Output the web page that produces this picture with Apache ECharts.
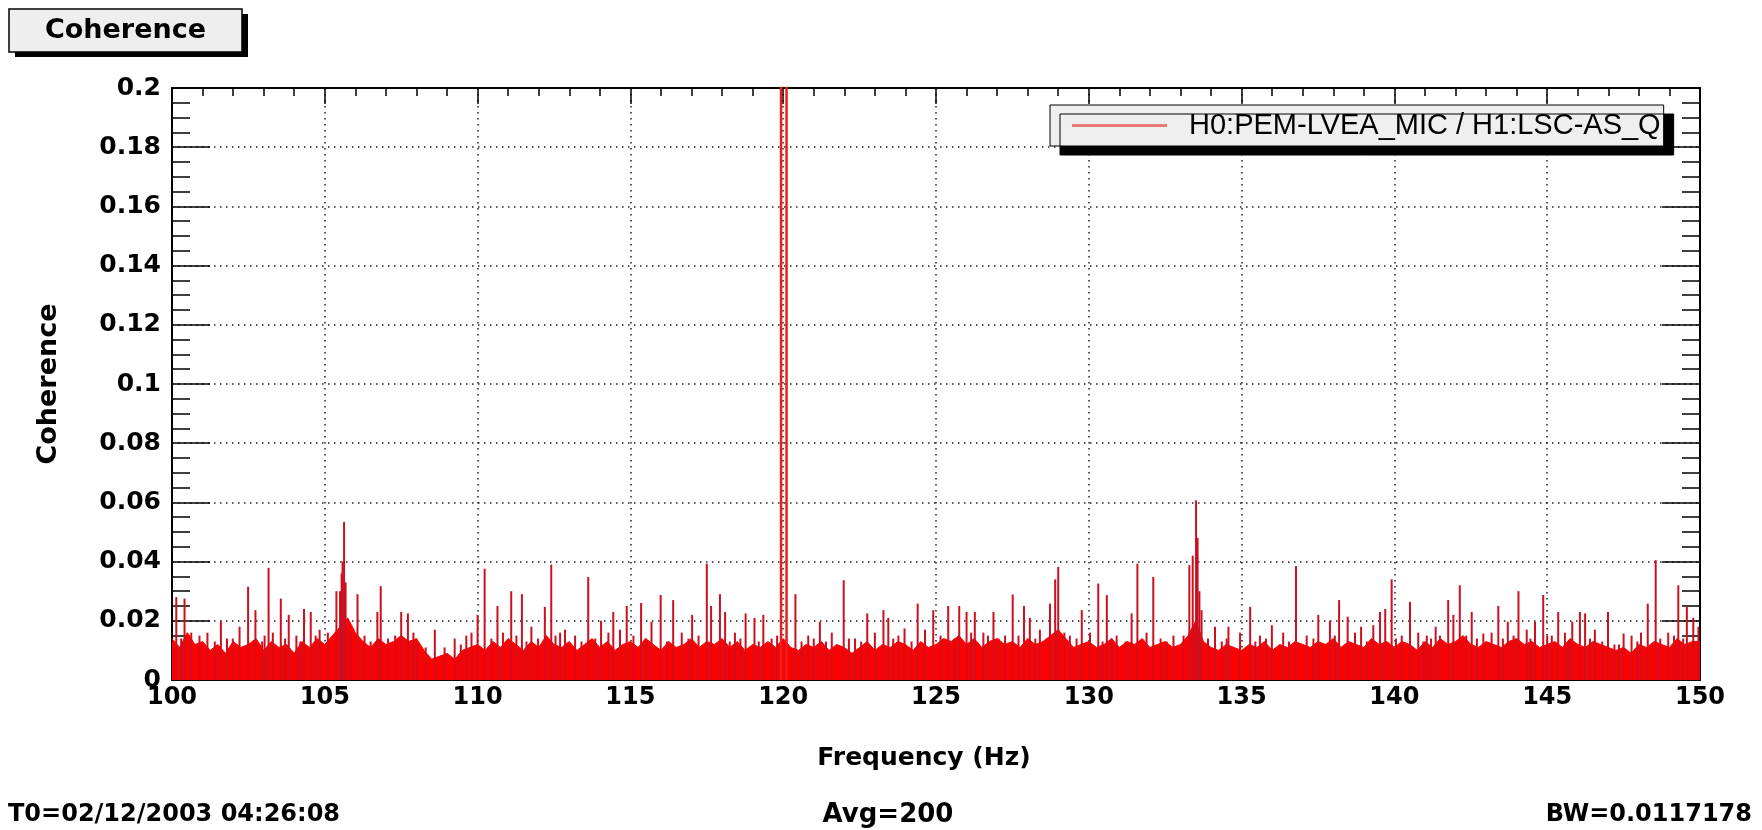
<!DOCTYPE html>
<html>
<head>
<meta charset="utf-8">
<title>Coherence</title>
<script src="https://cdn.jsdelivr.net/npm/echarts@6/dist/echarts.min.js"></script>
<style>
  html, body { margin: 0; padding: 0; background: #fff; }
  #chart { width: 1762px; height: 830px; }
</style>
</head>
<body>
<div id="chart"></div>
<script>
// axis ranges (Hz, coherence)
const freqMin = 100, freqMax = 150, freqStep = 5;
const cohMin = 0, cohMax = 0.2, cohStep = 0.02;

const seriesName = 'H0:PEM-LVEA_MIC / H1:LSC-AS_Q';

// dense noise floor, read every 0.25 Hz starting at 100 Hz
const floorStartHz = 100;
const floorStepHz = 0.25;
const floorCoh = [
  0.014, 0.011, 0.016, 0.012, 0.013, 0.010, 0.012, 0.009, 0.013, 0.011,
  0.012, 0.014, 0.010, 0.013, 0.011, 0.012, 0.009, 0.013, 0.011, 0.014,
  0.012, 0.015, 0.018, 0.021, 0.016, 0.013, 0.011, 0.014, 0.012, 0.013,
  0.015, 0.013, 0.014, 0.010, 0.007, 0.008, 0.009, 0.007, 0.010, 0.011,
  0.012, 0.010, 0.013, 0.011, 0.014, 0.012, 0.010, 0.013, 0.011, 0.015,
  0.012, 0.011, 0.013, 0.010, 0.012, 0.014, 0.011, 0.013, 0.010, 0.012,
  0.013, 0.011, 0.014, 0.012, 0.010, 0.013, 0.011, 0.012, 0.014, 0.011,
  0.013, 0.012, 0.014, 0.011, 0.013, 0.010, 0.012, 0.011, 0.013, 0.011,
  0.014, 0.011, 0.010, 0.012, 0.011, 0.013, 0.010, 0.012, 0.011, 0.009,
  0.011, 0.013, 0.010, 0.012, 0.011, 0.013, 0.012, 0.010, 0.013, 0.011,
  0.012, 0.014, 0.013, 0.015, 0.012, 0.014, 0.011, 0.013, 0.014, 0.012,
  0.013, 0.011, 0.014, 0.012, 0.013, 0.015, 0.017, 0.014, 0.011, 0.012,
  0.013, 0.011, 0.012, 0.014, 0.011, 0.013, 0.012, 0.014, 0.011, 0.012,
  0.013, 0.011, 0.012, 0.015, 0.020, 0.013, 0.011, 0.010, 0.012, 0.011,
  0.010, 0.012, 0.011, 0.013, 0.010, 0.012, 0.011, 0.013, 0.012, 0.011,
  0.013, 0.012, 0.014, 0.011, 0.013, 0.012, 0.011, 0.014, 0.012, 0.013,
  0.011, 0.013, 0.012, 0.010, 0.013, 0.011, 0.014, 0.012, 0.013, 0.015,
  0.012, 0.011, 0.013, 0.012, 0.011, 0.013, 0.014, 0.012, 0.013, 0.011,
  0.012, 0.013, 0.011, 0.014, 0.012, 0.011, 0.013, 0.012, 0.011, 0.010,
  0.011, 0.009, 0.012, 0.011, 0.013, 0.012, 0.011, 0.014, 0.012, 0.013,
  0.013
];

// narrow lines sticking out of the floor [Hz, coherence]
const tallPeaks = [
  [100.14, 0.028], [100.41, 0.0275], [101.60, 0.020], [102.49, 0.0315], [102.73, 0.0236],
  [103.16, 0.0379], [103.56, 0.0275], [103.82, 0.022], [104.32, 0.024], [104.54, 0.023],
  [105.38, 0.030], [105.50, 0.030], [105.55, 0.036], [105.58, 0.040], [105.63, 0.0534],
  [105.68, 0.033], [106.07, 0.029], [106.72, 0.023], [106.83, 0.0317], [107.50, 0.023],
  [107.72, 0.0225], [108.60, 0.017], [109.25, 0.014], [110.00, 0.022], [110.23, 0.0376],
  [110.65, 0.025], [111.10, 0.030], [111.45, 0.029], [111.76, 0.018], [112.20, 0.0247],
  [112.41, 0.039], [112.86, 0.017], [113.62, 0.0348], [114.04, 0.020], [114.44, 0.023],
  [114.88, 0.025], [115.35, 0.026], [115.69, 0.0197], [115.99, 0.0287], [116.40, 0.027],
  [117.02, 0.022], [117.50, 0.0393], [117.64, 0.025], [117.93, 0.029], [118.10, 0.023],
  [118.77, 0.0225], [119.06, 0.021], [119.35, 0.022], [120.40, 0.029], [121.20, 0.0197],
  [121.98, 0.0337], [122.75, 0.0225], [123.28, 0.0236], [123.44, 0.021], [123.97, 0.0174],
  [124.40, 0.0258], [124.91, 0.0236], [125.40, 0.025], [125.76, 0.025], [126.00, 0.023],
  [126.27, 0.023], [126.88, 0.023], [127.51, 0.0289], [127.88, 0.025], [128.07, 0.021],
  [128.73, 0.0258], [128.90, 0.034], [129.00, 0.0382], [129.77, 0.0236], [130.31, 0.0326],
  [130.59, 0.0287], [131.40, 0.0225], [131.59, 0.0393], [132.11, 0.0348], [133.29, 0.0388],
  [133.40, 0.042], [133.51, 0.0607], [133.56, 0.048], [133.62, 0.030], [133.69, 0.0236],
  [134.13, 0.018], [134.57, 0.018], [135.28, 0.0247], [135.99, 0.0185], [136.78, 0.0385],
  [137.51, 0.022], [137.89, 0.020], [138.19, 0.027], [138.47, 0.0214], [138.91, 0.018],
  [139.31, 0.0185], [139.53, 0.023], [139.70, 0.024], [139.91, 0.034], [140.51, 0.0264],
  [141.06, 0.015], [141.35, 0.018], [141.76, 0.027], [141.93, 0.022], [142.14, 0.032],
  [142.53, 0.023], [142.91, 0.0157], [143.40, 0.025], [143.71, 0.0197], [144.06, 0.030],
  [144.60, 0.0197], [144.87, 0.0287], [145.36, 0.023], [145.82, 0.0197], [146.07, 0.023],
  [146.24, 0.0225], [146.99, 0.023], [147.20, 0.012], [147.50, 0.0157], [148.07, 0.016],
  [148.29, 0.0258], [148.55, 0.0405], [149.29, 0.032], [149.57, 0.025], [149.78, 0.021]
];

const midPeaks = [
  [100.63, 0.016], [100.90, 0.015], [101.16, 0.016], [101.99, 0.014], [102.21, 0.018],
  [103.03, 0.015], [103.30, 0.016], [104.07, 0.015], [104.83, 0.017], [105.10, 0.016],
  [106.30, 0.015], [107.07, 0.014], [108.00, 0.013], [108.92, 0.011], [109.63, 0.015],
  [109.80, 0.016], [110.83, 0.016], [111.27, 0.015], [111.98, 0.014], [112.70, 0.016],
  [113.19, 0.015], [114.28, 0.016], [114.66, 0.017], [115.10, 0.015], [116.68, 0.016],
  [117.23, 0.015], [118.42, 0.016], [119.62, 0.014], [120.82, 0.015], [121.59, 0.016],
  [122.35, 0.014], [123.00, 0.016], [123.77, 0.015], [124.64, 0.017], [126.55, 0.016],
  [127.26, 0.015], [128.40, 0.017], [129.38, 0.015], [130.04, 0.016], [130.91, 0.015],
  [131.89, 0.016], [132.77, 0.015], [134.51, 0.014], [134.95, 0.016], [135.60, 0.015],
  [136.36, 0.016], [137.13, 0.015], [138.71, 0.016], [140.24, 0.015], [140.78, 0.016],
  [141.49, 0.015], [143.18, 0.016], [144.33, 0.017], [145.15, 0.015], [145.58, 0.016],
  [146.56, 0.017], [147.76, 0.015], [148.96, 0.016], [149.95, 0.018]
];

const smallPeaks = [
  [100.30, 0.014], [101.40, 0.013], [101.80, 0.014], [102.95, 0.013], [103.70, 0.014],
  [104.20, 0.013], [104.70, 0.015], [105.85, 0.016], [106.50, 0.013], [107.30, 0.015],
  [107.90, 0.016], [108.30, 0.011], [109.45, 0.012], [110.45, 0.014], [111.60, 0.013],
  [112.55, 0.015], [113.40, 0.013], [113.85, 0.014], [115.50, 0.014], [116.20, 0.013],
  [116.90, 0.014], [118.25, 0.013], [118.60, 0.014], [119.20, 0.013], [119.80, 0.015],
  [120.60, 0.013], [121.00, 0.014], [121.40, 0.013], [122.15, 0.014], [122.55, 0.013],
  [123.60, 0.014], [124.20, 0.013], [125.15, 0.015], [125.60, 0.014], [126.15, 0.016],
  [126.70, 0.015], [127.05, 0.014], [127.70, 0.015], [128.25, 0.014], [129.20, 0.016],
  [129.60, 0.014], [130.45, 0.013], [130.75, 0.014], [131.20, 0.013], [132.35, 0.014],
  [132.55, 0.013], [133.10, 0.015], [133.90, 0.014], [134.35, 0.013], [135.45, 0.013],
  [135.80, 0.014], [136.55, 0.013], [137.35, 0.014], [138.05, 0.015], [139.10, 0.013],
  [140.05, 0.014], [140.95, 0.013], [141.20, 0.014], [142.35, 0.015], [142.70, 0.014],
  [143.55, 0.014], [143.90, 0.015], [144.45, 0.014], [145.00, 0.015], [145.70, 0.013],
  [146.40, 0.014], [146.80, 0.013], [147.35, 0.012], [147.95, 0.013], [148.70, 0.014],
  [149.15, 0.015], [149.45, 0.014]
];

// 120 Hz mains line, two bins, both run off the top of the plot
const mainsLine = [[119.93, 0], [119.93, 0.9], [120.11, 0.9], [120.11, 0]];

const footer = {
  start: 'T0=02/12/2003 04:26:08',
  avg: 'Avg=200',
  bw: 'BW=0.0117178'
};

const boldFont = '"DejaVu Sans", sans-serif';

const chart = echarts.init(document.getElementById('chart'));

const floorData = floorCoh.map((v, i) => [floorStartHz + i * floorStepHz, v]);
const peakData = tallPeaks.concat(midPeaks, smallPeaks);

const frameX = (pos, withName) => ({
  type: 'value',
  position: pos,
  min: freqMin,
  max: freqMax,
  interval: freqStep,
  name: withName ? 'Frequency (Hz)' : '',
  nameLocation: 'middle',
  nameGap: 66,
  nameTextStyle: { fontFamily: boldFont, fontWeight: 'bold', fontSize: 25, color: '#000', padding: [0, 24, 0, 0] },
  axisLine: { show: true, onZero: false, lineStyle: { color: '#000', width: 2 } },
  axisTick: { show: true, inside: true, length: 16, lineStyle: { color: '#000', width: 1.5 } },
  minorTick: { show: true, splitNumber: 5, length: 8, lineStyle: { color: '#000', width: 1.5 } },
  axisLabel: {
    show: withName,
    margin: 6,
    fontFamily: boldFont,
    fontWeight: 'bold',
    fontSize: 24,
    color: '#000'
  },
  splitLine: {
    show: withName,
    lineStyle: { color: '#222', width: 1.5, type: [1.5, 4.5] }
  }
});

const frameY = (pos, withName) => ({
  type: 'value',
  position: pos,
  min: cohMin,
  max: cohMax,
  interval: cohStep,
  name: withName ? 'Coherence' : '',
  nameLocation: 'middle',
  nameGap: 110,
  nameTextStyle: { fontFamily: boldFont, fontWeight: 'bold', fontSize: 27, color: '#000' },
  axisLine: { show: true, onZero: false, lineStyle: { color: '#000', width: 2 } },
  axisTick: { show: true, inside: true, length: 38, lineStyle: { color: '#000', width: 1.5 } },
  minorTick: { show: true, splitNumber: 4, length: 18, lineStyle: { color: '#000', width: 1.5 } },
  axisLabel: {
    show: withName,
    margin: 11,
    fontFamily: boldFont,
    fontWeight: 'bold',
    fontSize: 25,
    color: '#000'
  },
  splitLine: {
    show: withName,
    lineStyle: { color: '#222', width: 1.5, type: [1.5, 4.5] }
  }
});

const option = {
  backgroundColor: '#ffffff',
  animation: false,
  legend: {
    left: 1050,
    top: 105,
    padding: [6, 3, 6, 22],
    itemWidth: 95,
    itemHeight: 3,
    backgroundColor: '#efefef',
    borderColor: '#000',
    borderWidth: 1,
    shadowColor: '#000',
    shadowBlur: 0,
    shadowOffsetX: 10,
    shadowOffsetY: 9,
    data: [{ name: seriesName, icon: 'rect', itemStyle: { color: '#e87878' } }],
    textStyle: { fontFamily: '"Liberation Sans", Arial, sans-serif', fontSize: 29, color: '#000', padding: [0, 0, 0, 17] }
  },
  grid: { left: 172, right: 62, top: 88, bottom: 150 },
  xAxis: [frameX('bottom', true), frameX('top', false)],
  yAxis: [frameY('left', true), frameY('right', false)],
  graphic: [
    // title box with its drop shadow
    { type: 'rect', shape: { x: 15, y: 14, width: 233, height: 43 }, style: { fill: '#000' } },
    { type: 'rect', shape: { x: 9, y: 9, width: 233, height: 43 }, style: { fill: '#eeeeee', stroke: '#000', lineWidth: 1.5 } },
    {
      type: 'text', x: 125.5, y: 31,
      style: { text: 'Coherence', align: 'center', verticalAlign: 'middle', font: 'bold 27px ' + boldFont, fill: '#000' }
    },
    { type: 'text', left: 8, top: 803, style: { text: footer.start, font: 'bold 24px ' + boldFont, fill: '#000' } },
    { type: 'text', x: 888, y: 802, style: { text: footer.avg, align: 'center', font: 'bold 26px ' + boldFont, fill: '#000' } },
    { type: 'text', x: 1752, y: 803, style: { text: footer.bw, align: 'right', font: 'bold 24px ' + boldFont, fill: '#000' } }
  ],
  series: [
    {
      name: seriesName,
      type: 'line',
      data: floorData,
      symbol: 'none',
      lineStyle: { color: '#ff0000', width: 1 },
      itemStyle: { color: '#ff0000' },
      areaStyle: { color: '#ff0000', opacity: 1 },
      z: 3
    },
    {
      name: 'peaks',
      type: 'bar',
      data: peakData,
      barWidth: 2,
      itemStyle: { color: '#cc1020' },
      z: 4
    },
    {
      name: 'mains',
      type: 'line',
      data: mainsLine,
      symbol: 'none',
      lineStyle: { color: '#e82020', width: 2.5 },
      z: 4
    }
  ]
};

chart.setOption(option);
window.addEventListener('resize', () => chart.resize());
</script>
</body>
</html>
